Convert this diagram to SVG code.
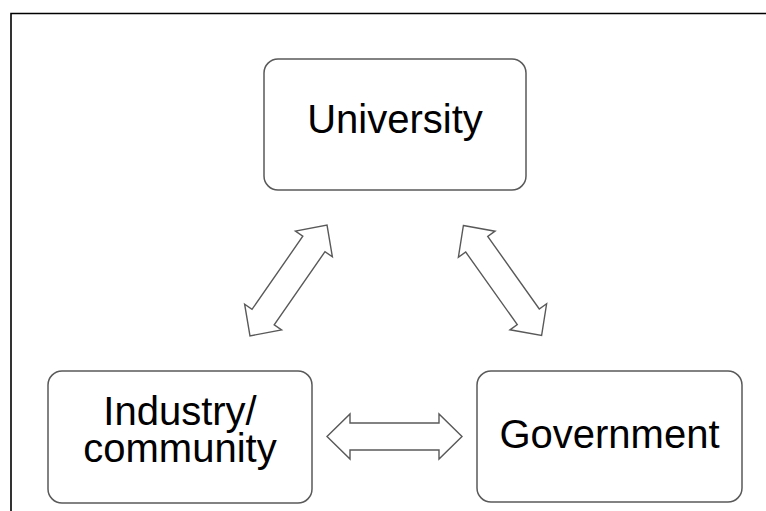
<svg xmlns="http://www.w3.org/2000/svg" width="766" height="511" viewBox="0 0 766 511">
  <defs>
    <style>
      .box { fill: #ffffff; stroke: #595959; stroke-width: 1.5; }
      .lbl { font-family: "Liberation Sans", Arial, sans-serif; font-size: 40px; fill: #000000; text-anchor: middle; }
      .arr { fill: #ffffff; stroke: #595959; stroke-width: 1.4; stroke-linejoin: miter; }
    </style>
    <path id="dblArrow" d="M-67.5,0 L-44.5,-22.5 L-44.5,-13.5 L44.5,-13.5 L44.5,-22.5 L67.5,0 L44.5,22.5 L44.5,13.5 L-44.5,13.5 L-44.5,22.5 Z"/>
  </defs>
  <rect x="0" y="0" width="766" height="511" fill="#ffffff"/>
  <path d="M11,515 V13.5 H770" fill="none" stroke="#000000" stroke-width="1.6"/>

  <g id="university">
    <rect class="box" x="264" y="59" width="262" height="131" rx="14"/>
    <text class="lbl" x="395" y="133">University</text>
  </g>
  <g id="industry">
    <rect class="box" x="48" y="371" width="264" height="132" rx="14"/>
    <text class="lbl" x="180" y="425">Industry/</text>
    <text class="lbl" x="180" y="462">community</text>
  </g>
  <g id="government">
    <rect class="box" x="477" y="371" width="265" height="131" rx="14"/>
    <text class="lbl" x="609.5" y="448">Government</text>
  </g>

  <g id="connectors">
    <use href="#dblArrow" class="arr" transform="translate(288.5,280.5) rotate(-55.2)"/>
    <use href="#dblArrow" class="arr" transform="translate(502.5,280.5) rotate(54.6)"/>
    <use href="#dblArrow" class="arr" transform="translate(394.5,436.5)"/>
  </g>
</svg>
